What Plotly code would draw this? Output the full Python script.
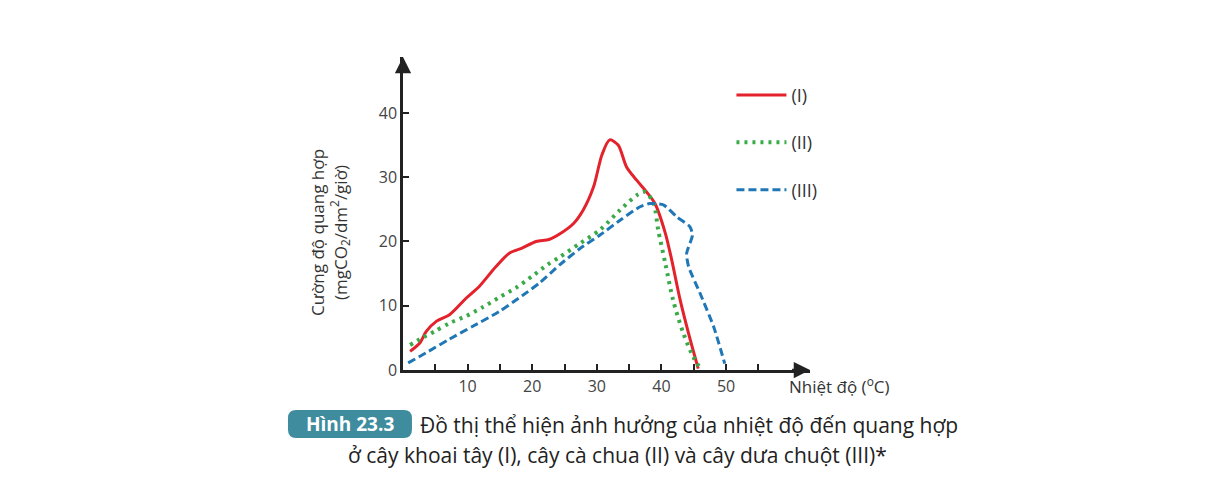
import plotly.graph_objects as go

# curves (temperature in C, photosynthesis rate)
temp_I = [1.1, 2.6, 3.6, 5.2, 7.2, 9.8, 11.8, 14.4, 16.5, 18.5, 20.6, 22.6, 24.3, 26.4, 27.9,
          29.5, 30.8, 32.0, 33.3, 34.6, 36.2, 37.7, 39.0, 40.6, 41.6, 42.9, 44.2, 45.7]
rate_I = [2.9, 4.2, 6.0, 7.6, 8.6, 11.2, 13.0, 16.1, 18.2, 19.0, 20.0, 20.3, 21.2, 22.8, 24.9,
          28.5, 33.5, 35.8, 35.0, 31.6, 29.5, 27.7, 25.9, 21.3, 17.1, 10.9, 5.7, 0.2]

temp_II = [1.1, 2.6, 4.9, 7.2, 9.8, 12.4, 14.9, 17.5, 20.0, 22.4, 24.3, 27.4, 30.5, 33.6,
           36.2, 37.5, 38.8, 39.5, 40.6, 41.8, 43.4, 44.9, 46.2]
rate_II = [3.9, 4.8, 6.0, 7.3, 8.4, 9.8, 11.3, 12.8, 14.6, 16.4, 17.6, 19.7, 21.8, 24.9,
           27.2, 27.7, 25.9, 21.8, 16.6, 10.9, 5.7, 2.1, 0.0]

temp_III = [0.8, 3.6, 7.2, 10.8, 14.9, 18.5, 21.2, 24.3, 27.4, 30.5, 33.6, 36.7, 38.2, 40.3,
            42.4, 44.4, 44.8, 43.9, 44.2, 46.0, 48.1, 49.8]
rate_III = [1.1, 2.7, 4.8, 6.8, 9.1, 11.6, 13.6, 16.4, 18.9, 21.0, 23.3, 25.4, 25.9, 25.7,
            23.8, 22.3, 21.0, 18.1, 16.1, 11.9, 6.7, 1.0]

x_ticks = [5, 10, 15, 20, 25, 30, 35, 40, 45, 50, 55]
x_labels = ['', '10', '', '20', '', '30', '', '40', '', '50', '']
y_ticks = [0, 10, 20, 30, 40]

FONT = "Open Sans"

fig = go.Figure()
fig.add_trace(go.Scatter(x=temp_I, y=rate_I, name="(I)", mode="lines", legendgroup="a",
                         line=dict(color="#e3222b", width=3, shape="spline", smoothing=0.8)))
fig.add_trace(go.Scatter(x=temp_II, y=rate_II, name="(II)", mode="lines", legendgroup="b",
                         line=dict(color="#3aaa48", width=4, dash="3px,5px", shape="spline", smoothing=0.8)))
fig.add_trace(go.Scatter(x=temp_III, y=rate_III, name="(III)", mode="lines", legendgroup="c",
                         line=dict(color="#1f77b6", width=3, dash="8px,4px", shape="spline", smoothing=0.6)))

# axis arrows
fig.add_annotation(x=63, y=0, ax=60, ay=0, xref="x", yref="y", axref="x", ayref="y",
                   text="", showarrow=True, arrowhead=2, arrowsize=1.3, arrowwidth=2.5, arrowcolor="#222")
fig.add_annotation(x=0, y=48.7, ax=0, ay=46, xref="x", yref="y", axref="x", ayref="y",
                   text="", showarrow=True, arrowhead=2, arrowsize=1.3, arrowwidth=2.5, arrowcolor="#222")

# axis titles
fig.add_annotation(x=-0.18, y=0.44, xref="paper", yref="paper", textangle=-90, xanchor="center",
                   yanchor="middle",
                   text="Cường độ quang hợp<br>(mgCO<sub>2</sub>/dm<sup>2</sup>/giờ)",
                   showarrow=False, font=dict(family=FONT, size=17, color="#333"))
fig.add_annotation(x=0.944, y=-0.096, xref="paper", yref="paper", xanchor="left",
                   text="Nhiệt độ (<sup>o</sup>C)", showarrow=False,
                   font=dict(family=FONT, size=17, color="#333"))

# caption with label box
bx0, bx1, by0, by1 = -0.2826, 0.022, -0.217, -0.128
rx, ry = 0.02, 0.026
fig.add_shape(type="path", xref="paper", yref="paper", fillcolor="#3f8c9e", line=dict(width=0),
              layer="below",
              path=(f"M{bx0+rx},{by1} L{bx1-rx},{by1} Q{bx1},{by1} {bx1},{by1-ry} "
                    f"L{bx1},{by0+ry} Q{bx1},{by0} {bx1-rx},{by0} L{bx0+rx},{by0} "
                    f"Q{bx0},{by0} {bx0},{by0+ry} L{bx0},{by1-ry} Q{bx0},{by1} {bx0+rx},{by1} Z"))
fig.add_annotation(x=(bx0 + bx1) / 2, y=(by0 + by1) / 2, xref="paper", yref="paper",
                   xanchor="center", yanchor="middle",
                   text="<b>Hình 23.3</b>", showarrow=False,
                   font=dict(family=FONT, size=19, color="white"))
fig.add_annotation(x=0.037, y=-0.176, xref="paper", yref="paper", xanchor="left", yanchor="middle",
                   text="Đồ thị thể hiện ảnh hưởng của nhiệt độ đến quang hợp", showarrow=False,
                   font=dict(family=FONT, size=21, color="#222"))
fig.add_annotation(x=0.526, y=-0.272, xref="paper", yref="paper", xanchor="center", yanchor="middle",
                   text="ở cây khoai tây (I), cây cà chua (II) và cây dưa chuột (III)*", showarrow=False,
                   font=dict(family=FONT, size=21, color="#222"))

fig.update_layout(
    width=1214, height=481,
    margin=dict(l=395, r=412, t=49, b=119),
    paper_bgcolor="white", plot_bgcolor="white",
    font=dict(family=FONT, size=15, color="#444"),
    showlegend=True,
    legend=dict(x=0.807, y=0.937, xanchor="left", yanchor="top", traceorder="grouped",
                tracegroupgap=21, itemwidth=50, font=dict(family=FONT, size=18, color="#333"),
                bgcolor="rgba(0,0,0,0)"),
    xaxis=dict(range=[0, 63], showgrid=False, zeroline=False, showline=True, linecolor="#222",
               linewidth=2.5, ticks="inside", ticklen=6, tickwidth=2, tickcolor="#222",
               tickvals=x_ticks, ticktext=x_labels, tickfont=dict(size=16, color="#444")),
    yaxis=dict(range=[0, 48.7], showgrid=False, zeroline=False, showline=True, linecolor="#222",
               linewidth=2.5, ticks="inside", ticklen=6, tickwidth=2, tickcolor="#222",
               tickvals=y_ticks, tickfont=dict(size=16, color="#444")),
)

fig.write_html("out.html")
